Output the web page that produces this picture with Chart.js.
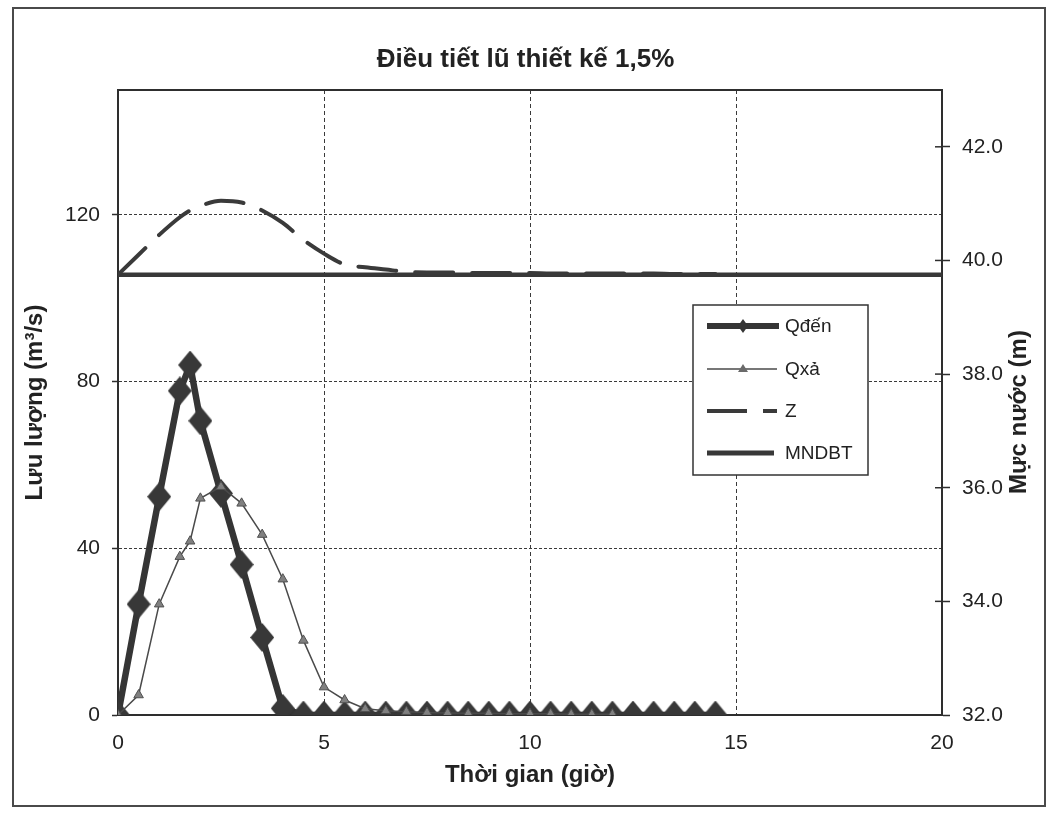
<!DOCTYPE html>
<html>
<head>
<meta charset="utf-8">
<script src="https://cdn.jsdelivr.net/npm/chart.js@4.4.1/dist/chart.umd.min.js"></script>
<style>
html,body{margin:0;padding:0;background:#fff;}
#wrap{width:1051px;height:815px;position:relative;}
canvas{display:block;}
</style>
</head>
<body>
<div id="wrap"><canvas id="c" width="1051" height="815"></canvas></div>
<script>
// ---- data ----
const chartTitle = 'Điều tiết lũ thiết kế 1,5%';
const xTitle = 'Thời gian (giờ)';
const yLeftTitle = 'Lưu lượng (m³/s)';
const yRightTitle = 'Mực nước (m)';
const seriesNames = ['Qđến', 'Qxả', 'Z', 'MNDBT'];

const time = [0, 0.5, 1, 1.5, 1.75, 2, 2.5, 3, 3.5, 4, 4.5, 5, 5.5, 6, 6.5, 7, 7.5, 8, 8.5, 9, 9.5, 10, 10.5, 11, 11.5, 12, 12.5, 13, 13.5, 14, 14.5];
const qDen = [0, 26.6, 52.4, 77.8, 84, 70.6, 53.2, 36.1, 18.6, 1.6, 0, 0, 0, 0, 0, 0, 0, 0, 0, 0, 0, 0, 0, 0, 0, 0, 0, 0, 0, 0, 0];
const qXa = [0, 4.8, 26.6, 38, 41.7, 52, 54.8, 50.8, 43.3, 32.6, 17.9, 6.7, 3.6, 1.5, 1.0, 0.8, 0.6, 0.5, 0.4, 0.4, 0.3, 0.3, 0.3, 0.2, 0.2, 0.2];
const zLevel = [39.75, 40.10, 40.45, 40.76, 40.88, 40.96, 41.05, 41.02, 40.88, 40.66, 40.36, 40.12, 39.93, 39.88, 39.84, 39.80, 39.79, 39.79, 39.78, 39.78, 39.78, 39.78, 39.77, 39.77, 39.77, 39.77, 39.77, 39.77, 39.76, 39.76, 39.76];
const mndbtTime = [0, 20];
const mndbtLevel = [39.75, 39.75];

const xTicks = [0, 5, 10, 15, 20];
const yLeftTicks = [0, 40, 80, 120];
const yRightTicks = [32, 34, 36, 38, 40, 42];

// ---- build ----
const pts = (xs, ys) => ys.map((v, i) => ({x: xs[i], y: v}));
const FONT = 'Liberation Sans, Arial, Helvetica, sans-serif';
const INK = '#2e2e2e';

// tall diamond marker for Qđến
function makeDiamond(w, h, fill) {
  const c = document.createElement('canvas');
  c.width = w; c.height = h;
  const g = c.getContext('2d');
  g.fillStyle = fill;
  g.beginPath();
  g.moveTo(w / 2, 0);
  g.lineTo(w, h / 2);
  g.lineTo(w / 2, h);
  g.lineTo(0, h / 2);
  g.closePath();
  g.fill();
  return c;
}
const diamond = makeDiamond(24, 29, '#383838');

const datasets = [
  {
    label: seriesNames[1], data: pts(time, qXa), yAxisID: 'y', order: 0,
    borderColor: '#4a4a4a', borderWidth: 1.5, backgroundColor: '#7a7a7a',
    pointStyle: 'triangle', pointRadius: 5.5, pointBorderColor: '#505050', pointBorderWidth: 1,
    pointBackgroundColor: '#808080', tension: 0
  },
  {
    label: seriesNames[0], data: pts(time, qDen), yAxisID: 'y', order: 1,
    borderColor: '#353535', borderWidth: 6.5, backgroundColor: '#3a3a3a',
    pointStyle: diamond, pointRadius: 12, tension: 0
  },
  {
    label: seriesNames[2], data: pts(time, zLevel), yAxisID: 'y2', order: 2,
    borderColor: '#3a3a3a', borderWidth: 4, borderDash: [38, 19], pointRadius: 0,
    tension: 0.4, cubicInterpolationMode: 'monotone', borderCapStyle: 'round'
  },
  {
    label: seriesNames[3], data: pts(mndbtTime, mndbtLevel), yAxisID: 'y2', order: 3,
    borderColor: '#383838', borderWidth: 4.5, pointRadius: 0, tension: 0
  }
];

const decor = {
  id: 'decor',
  beforeDraw(chart) {
    const ctx = chart.ctx;
    ctx.save();
    ctx.fillStyle = '#ffffff';
    ctx.fillRect(0, 0, chart.width, chart.height);
    ctx.strokeStyle = '#4a4a4a';
    ctx.lineWidth = 2;
    ctx.strokeRect(13, 8, 1032, 798);
    ctx.restore();
  },
  afterDraw(chart) {
    const ctx = chart.ctx;
    const a = chart.chartArea;
    ctx.save();
    // top border of plot area
    ctx.strokeStyle = INK;
    ctx.lineWidth = 2;
    ctx.beginPath();
    ctx.moveTo(a.left, a.top);
    ctx.lineTo(a.right, a.top);
    ctx.stroke();
    // inward half of right-axis cross ticks
    const y2 = chart.scales.y2;
    ctx.lineWidth = 1.5;
    y2.ticks.forEach(t => {
      const py = y2.getPixelForValue(t.value);
      ctx.beginPath();
      ctx.moveTo(a.right - 7, py);
      ctx.lineTo(a.right, py);
      ctx.stroke();
    });
    // right axis title (reads bottom to top)
    ctx.fillStyle = '#222';
    ctx.font = 'bold 24px ' + FONT;
    ctx.textAlign = 'center';
    ctx.textBaseline = 'middle';
    ctx.translate(1019, 412);
    ctx.rotate(-Math.PI / 2);
    ctx.fillText(yRightTitle, 0, 0);
    ctx.restore();

    // legend box
    ctx.save();
    const L = {x: 693, y: 305, w: 175, h: 170};
    ctx.fillStyle = '#fff';
    ctx.fillRect(L.x, L.y, L.w, L.h);
    ctx.strokeStyle = '#333';
    ctx.lineWidth = 1.5;
    ctx.strokeRect(L.x, L.y, L.w, L.h);
    const rows = [326, 369, 411, 453];
    const sx1 = 707, sx2 = 779, tx = 785;
    ctx.lineCap = 'butt';
    // Qđến
    ctx.strokeStyle = '#353535'; ctx.lineWidth = 6;
    ctx.beginPath(); ctx.moveTo(sx1, rows[0]); ctx.lineTo(sx2, rows[0]); ctx.stroke();
    ctx.fillStyle = '#353535';
    ctx.beginPath(); ctx.moveTo(743, rows[0] - 7); ctx.lineTo(748, rows[0]); ctx.lineTo(743, rows[0] + 7); ctx.lineTo(738, rows[0]); ctx.closePath(); ctx.fill();
    // Qxả
    ctx.strokeStyle = '#4a4a4a'; ctx.lineWidth = 1.5;
    ctx.beginPath(); ctx.moveTo(sx1, rows[1]); ctx.lineTo(sx2 - 2, rows[1]); ctx.stroke();
    ctx.fillStyle = '#6a6a6a';
    ctx.beginPath(); ctx.moveTo(743, rows[1] - 5); ctx.lineTo(748, rows[1] + 3); ctx.lineTo(738, rows[1] + 3); ctx.closePath(); ctx.fill();
    // Z
    ctx.strokeStyle = '#3a3a3a'; ctx.lineWidth = 4;
    ctx.beginPath(); ctx.moveTo(sx1, rows[2]); ctx.lineTo(747, rows[2]); ctx.stroke();
    ctx.beginPath(); ctx.moveTo(763, rows[2]); ctx.lineTo(777, rows[2]); ctx.stroke();
    // MNDBT
    ctx.strokeStyle = '#383838'; ctx.lineWidth = 5;
    ctx.beginPath(); ctx.moveTo(sx1, rows[3]); ctx.lineTo(774, rows[3]); ctx.stroke();
    // labels
    ctx.fillStyle = '#222';
    ctx.font = '19px ' + FONT;
    ctx.textAlign = 'left';
    ctx.textBaseline = 'middle';
    [0, 1, 2, 3].forEach((k, i) => ctx.fillText(seriesNames[k], tx, rows[i] + 1));
    ctx.restore();
  }
};

new Chart(document.getElementById('c'), {
  type: 'line',
  data: {datasets},
  plugins: [decor],
  options: {
    responsive: false,
    devicePixelRatio: 1,
    animation: false,
    events: [],
    layout: {padding: {left: 0, right: 0, top: 0, bottom: 0}},
    plugins: {
      legend: {display: false},
      tooltip: {enabled: false},
      title: {
        display: true, text: chartTitle, color: '#222',
        font: {family: FONT, size: 26, weight: 'bold', lineHeight: 1.2},
        padding: {top: 44.4, bottom: 14.4}
      }
    },
    scales: {
      x: {
        type: 'linear', min: 0, max: 20, position: 'bottom',
        afterBuildTicks: s => { s.ticks = xTicks.map(v => ({value: v})); },
        afterFit: s => { s.height = 100; },
        ticks: {color: '#222', font: {family: FONT, size: 21}, padding: 16, maxRotation: 0, autoSkip: false},
        grid: {color: '#3a3a3a', lineWidth: 1, drawTicks: false},
        border: {display: true, color: INK, width: 2, dash: [4, 3]},
        title: {display: true, text: xTitle, color: '#222', font: {family: FONT, size: 24, weight: 'bold', lineHeight: 1.2}, padding: {top: 0, bottom: 25.6}}
      },
      y: {
        type: 'linear', min: 0, max: 150, position: 'left',
        afterBuildTicks: s => { s.ticks = yLeftTicks.map(v => ({value: v})); },
        afterFit: s => { s.width = 118; },
        ticks: {color: '#222', font: {family: FONT, size: 21}, padding: 12},
        grid: {color: '#3a3a3a', lineWidth: 1, drawTicks: true, tickLength: 6, tickColor: INK, tickWidth: 1.5},
        border: {display: true, color: INK, width: 2, dash: [3, 2]},
        title: {display: true, text: yLeftTitle, color: '#222', font: {family: FONT, size: 24, weight: 'bold', lineHeight: 1.2}, padding: {top: 20.6, bottom: 0}}
      },
      y2: {
        type: 'linear', min: 32, max: 43, position: 'right',
        afterBuildTicks: s => { s.ticks = yRightTicks.map(v => ({value: v})); },
        afterFit: s => { s.width = 109; },
        ticks: {color: '#222', font: {family: FONT, size: 21}, padding: 12, callback: v => Number(v).toFixed(1)},
        grid: {drawOnChartArea: false, drawTicks: true, tickLength: 8, tickColor: INK, tickWidth: 1.5},
        border: {display: true, color: INK, width: 2}
      }
    }
  }
});
</script>
</body>
</html>
